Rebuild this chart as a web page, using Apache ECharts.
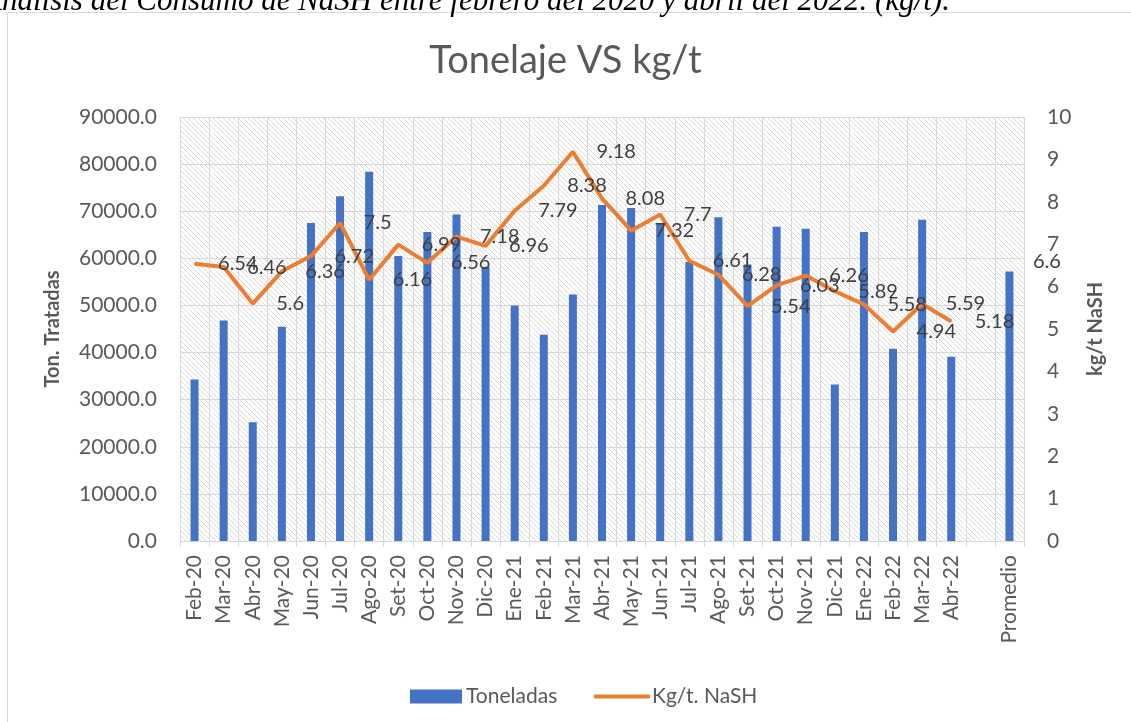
<!DOCTYPE html>
<html>
<head>
<meta charset="utf-8">
<script src="https://cdn.jsdelivr.net/npm/echarts@6/dist/echarts.min.js"></script>
<style>
  html, body { margin: 0; padding: 0; background: #fff; }
  #main { width: 1131px; height: 722px; }
</style>
</head>
<body>
<div id="main"></div>
<script>
var categorias = ['Feb-20','Mar-20','Abr-20','May-20','Jun-20','Jul-20','Ago-20','Set-20','Oct-20','Nov-20','Dic-20',
    'Ene-21','Feb-21','Mar-21','Abr-21','May-21','Jun-21','Jul-21','Ago-21','Set-21','Oct-21','Nov-21','Dic-21',
    'Ene-22','Feb-22','Mar-22','Abr-22','','Promedio'];
var toneladas = [34300, 46800, 25200, 45500, 67500, 73200, 78400, 60500, 65600, 69300, 58200,
    50000, 43800, 52300, 71300, 70700, 67400, 59200, 68700, 58700, 66700, 66300, 33200,
    65600, 40800, 68200, 39100, null, 57200];
var kgNash = [6.54, 6.46, 5.6, 6.36, 6.72, 7.5, 6.16, 6.99, 6.56, 7.18, 6.96,
    7.79, 8.38, 9.18, 8.08, 7.32, 7.7, 6.61, 6.28, 5.54, 6.03, 6.26, 5.89,
    5.58, 4.94, 5.59, 5.18, null, 6.6];

// trama de rayas diagonales para el fondo del area de trazado
var hatch = document.createElement('canvas');
hatch.width = 5; hatch.height = 5;
var ctx = hatch.getContext('2d');
ctx.strokeStyle = '#dadada';
ctx.lineWidth = 1;
[-5, 0, 5].forEach(function (k) {
    ctx.beginPath();
    ctx.moveTo(k, 0);
    ctx.lineTo(k + 5, 5);
    ctx.stroke();
});

var fuente = 'Lato';
var gris = '#595959';

var myChart = echarts.init(document.getElementById('main'));
var option = {
    backgroundColor: '#fff',
    textStyle: { fontFamily: fuente },
    graphic: [
        {
            type: 'rect',
            shape: { x: 7.5, y: 12.5, width: 1140, height: 720 },
            style: { fill: 'none', stroke: '#d9d9d9', lineWidth: 1 },
            silent: true
        },
        {
            type: 'text',
            x: -17, y: 17,
            style: {
                text: 'Análisis del Consumo de NaSH entre febrero del 2020 y abril del 2022. (kg/t).',
                font: 'italic 31px "Liberation Serif"',
                fill: '#000',
                verticalAlign: 'bottom'
            },
            silent: true
        }
    ],
    title: {
        text: 'Tonelaje VS kg/t',
        left: 'center',
        top: 37,
        textStyle: { fontFamily: fuente, fontSize: 38, fontWeight: 'normal', color: gris }
    },
    legend: [
        {
            data: ['Toneladas'],
            left: 405, top: 681,
            itemWidth: 52, itemHeight: 14, itemGap: 6,
            icon: 'rect',
            textStyle: { fontFamily: fuente, fontSize: 21, color: gris, padding: [0, 0, 0, -1] }
        },
        {
            data: ['Kg/t. NaSH'],
            left: 589, top: 681,
            itemWidth: 56, itemHeight: 4,
            icon: 'roundRect',
            textStyle: { fontFamily: fuente, fontSize: 21, color: gris, padding: [0, 0, 0, -3] }
        }
    ],
    grid: {
        left: 180, right: 107, top: 117, bottom: 181,
        show: true,
        borderWidth: 0,
        backgroundColor: { image: hatch, repeat: 'repeat' }
    },
    xAxis: {
        type: 'category',
        data: categorias,
        axisLine: { lineStyle: { color: '#d9d9d9', width: 1 } },
        axisTick: { show: true, interval: 0, length: 6, lineStyle: { color: '#d9d9d9' } },
        splitLine: { show: true, interval: 0, lineStyle: { color: '#d9d9d9', width: 1 } },
        axisLabel: { interval: 0, rotate: 90, margin: 14, fontFamily: fuente, fontSize: 21, color: gris }
    },
    yAxis: [
        {
            type: 'value',
            min: 0, max: 90000, interval: 10000,
            name: 'Ton. Tratadas',
            nameLocation: 'middle',
            nameGap: 117,
            nameTextStyle: { fontFamily: fuente, fontSize: 20, fontWeight: 'bold', color: gris },
            axisLine: { show: false },
            axisTick: { show: false },
            splitLine: { lineStyle: { color: '#d9d9d9', width: 1 } },
            axisLabel: {
                margin: 23, fontFamily: fuente, fontSize: 21, color: gris,
                formatter: function (v) { return v.toFixed(1); }
            }
        },
        {
            type: 'value',
            min: 0, max: 10, interval: 1,
            name: 'kg/t NaSH',
            nameLocation: 'middle',
            nameGap: 62,
            nameTextStyle: { fontFamily: fuente, fontSize: 20, fontWeight: 'bold', color: gris },
            axisLine: { show: false },
            axisTick: { show: false },
            splitLine: { show: false },
            axisLabel: { margin: 23, fontFamily: fuente, fontSize: 21, color: gris }
        }
    ],
    series: [
        {
            name: 'Toneladas',
            type: 'bar',
            data: toneladas,
            barWidth: 8,
            itemStyle: { color: '#4472C4' }
        },
        {
            name: 'Kg/t. NaSH',
            type: 'line',
            yAxisIndex: 1,
            data: kgNash,
            connectNulls: false,
            symbol: 'circle',
            symbolSize: 1,
            showSymbol: true,
            itemStyle: { color: '#ED7D31' },
            lineStyle: { color: '#ED7D31', width: 4 },
            label: {
                show: true,
                position: 'right',
                distance: 23,
                fontFamily: fuente,
                fontSize: 20,
                color: '#404040'
            },
            z: 3
        }
    ]
};
myChart.setOption(option);
</script>
</body>
</html>
